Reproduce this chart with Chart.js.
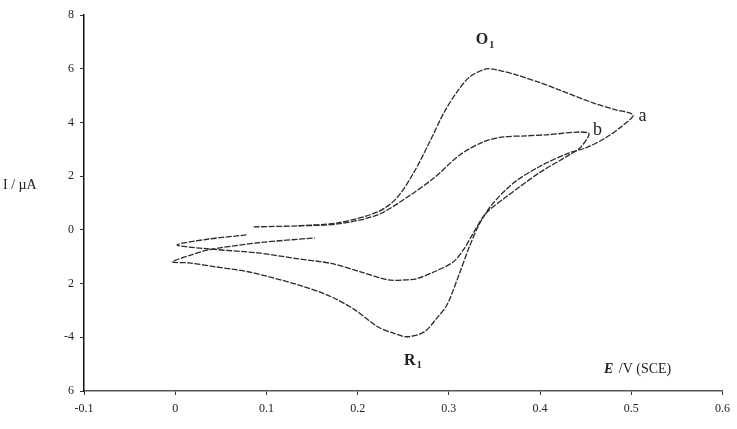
<!DOCTYPE html>
<html>
<head>
<meta charset="utf-8">
<script src="https://cdn.jsdelivr.net/npm/chart.js@4.4.1/dist/chart.umd.min.js"></script>
<style>
  html, body { margin: 0; padding: 0; background: #fff; }
</style>
</head>
<body>
<canvas id="cvChart" width="737" height="429"></canvas>
<script>
/* --------------- Data (E in V vs SCE, I in µA) --------------------- */
// curve a : larger window, goes to 0.5 V
const curveA_E = [0.135, 0.178, 0.222, 0.243, 0.262, 0.279, 0.295, 0.309, 0.323, 0.341, 0.352, 0.374, 0.401, 0.421, 0.458, 0.483, 0.502,
    0.490, 0.472, 0.450, 0.432, 0.399, 0.371, 0.347, 0.333, 0.322, 0.311, 0.298, 0.287, 0.273, 0.254, 0.238, 0.222, 0.197, 0.171, 0.135, 0.080, 0.045, 0.015, -0.003,
    0.018, 0.037, 0.091, 0.153];
const curveA_I = [0.15, 0.26, 0.67, 1.19, 2.16, 3.28, 4.39, 5.14, 5.70, 5.99, 5.96, 5.77, 5.47, 5.21, 4.73, 4.47, 4.28,
    3.87, 3.43, 3.05, 2.87, 2.35, 1.75, 0.93, 0.19, -0.67, -1.68, -2.79, -3.28, -3.80, -3.98, -3.83, -3.61, -2.98, -2.49, -2.05, -1.56, -1.38, -1.23, -1.19,
    -0.93, -0.74, -0.48, -0.30];

// curve b : smaller window, goes to 0.45 V
const curveB_E = [0.086, 0.135, 0.178, 0.222, 0.258, 0.284, 0.312, 0.338, 0.360, 0.385, 0.407, 0.453,
    0.445, 0.432, 0.399, 0.363, 0.341, 0.327, 0.316, 0.305, 0.284, 0.265, 0.254, 0.233, 0.203, 0.171, 0.135, 0.091, 0.037, 0.002,
    0.037, 0.078];
const curveB_I = [0.11, 0.15, 0.22, 0.56, 1.30, 1.94, 2.79, 3.28, 3.46, 3.50, 3.54, 3.61,
    3.09, 2.79, 2.12, 1.23, 0.63, -0.11, -0.74, -1.19, -1.56, -1.82, -1.86, -1.86, -1.56, -1.25, -1.08, -0.86, -0.71, -0.56,
    -0.34, -0.19];

/* --------------- Tick labels (as printed) --------------------- */
const xTickLabels = ["-0.1", "0", "0.1", "0.2", "0.3", "0.4", "0.5", "0.6"];
const yTickLabels = ["6", "-4", "2", "0", "2", "4", "6", "8"];   // from -6 up to 8

/* --------------- Labels on the plot --------------------- */
const peakLabels = [
    { text: "O", sub: "1", e: 0.339, i: 7.07 },
    { text: "R", sub: "1", e: 0.260, i: -4.88 }
];
const curveLabels = [
    { text: "a", e: 0.508, i: 4.24 },
    { text: "b", e: 0.458, i: 3.72 }
];

const serif = "'Liberation Serif', 'DejaVu Serif', serif";
const toPoints = (xs, ys) => xs.map((x, k) => ({ x: x, y: ys[k] }));

/* --------------- Text plugin --------------------- */
const textPlugin = {
    id: "cvText",
    afterDraw(chart) {
        const ctx = chart.ctx;
        const sx = chart.scales.x, sy = chart.scales.y;
        ctx.save();
        ctx.fillStyle = "#222";
        ctx.textBaseline = "middle";
        ctx.textAlign = "left";

        // O1 / R1
        peakLabels.forEach(p => {
            ctx.font = "bold 16px " + serif;
            const w1 = ctx.measureText(p.text).width;
            ctx.font = "bold 10px " + serif;
            const w2 = ctx.measureText(p.sub).width;
            const x0 = sx.getPixelForValue(p.e) - (w1 + w2) / 2;
            const y0 = sy.getPixelForValue(p.i);
            ctx.font = "bold 16px " + serif;
            ctx.fillText(p.text, x0, y0);
            ctx.font = "bold 10px " + serif;
            ctx.fillText(p.sub, x0 + w1 + 1, y0 + 5);
        });

        // a / b
        ctx.font = "18px " + serif;
        curveLabels.forEach(c => {
            ctx.fillText(c.text, sx.getPixelForValue(c.e), sy.getPixelForValue(c.i));
        });

        // x title
        const ex = sx.getPixelForValue(0.470), ey = sy.getPixelForValue(-5.21);
        ctx.font = "bold italic 14px " + serif;
        ctx.fillText("E", ex, ey);
        const we = ctx.measureText("E").width;
        ctx.font = "14px " + serif;
        ctx.fillText(" /V (SCE)", ex + we + 2, ey);

        // y title
        ctx.font = "14px " + serif;
        ctx.fillText("I / \u00b5A", 3, sy.getPixelForValue(1.64));
        ctx.restore();
    }
};

/* --------------- Chart --------------------- */
const cvChart = new Chart(document.getElementById("cvChart"), {
    type: "scatter",
    plugins: [textPlugin],
    data: {
        datasets: [
            {
                label: "a",
                data: toPoints(curveA_E, curveA_I),
                showLine: true,
                borderColor: "#2a2a2a",
                borderWidth: 1.3,
                borderDash: [6, 1.5],
                pointRadius: 0,
                tension: 0.3
            },
            {
                label: "b",
                data: toPoints(curveB_E, curveB_I),
                showLine: true,
                borderColor: "#2a2a2a",
                borderWidth: 1.3,
                borderDash: [6, 1.5],
                pointRadius: 0,
                tension: 0.3
            }
        ]
    },
    options: {
        responsive: false,
        animation: false,
        devicePixelRatio: 1,
        layout: { padding: { top: 15, right: 9, left: 0, bottom: 0 } },
        plugins: {
            legend: { display: false },
            tooltip: { enabled: false }
        },
        scales: {
            x: {
                type: "linear",
                min: -0.1,
                max: 0.6,
                afterFit: s => { s.height = 38; },
                border: { display: true, color: "#555", width: 1.5 },
                grid: { drawOnChartArea: false, drawTicks: true, tickLength: 4, color: "#333" },
                ticks: {
                    stepSize: 0.1,
                    padding: 7,
                    color: "#222",
                    font: { family: serif, size: 12 },
                    callback: v => xTickLabels[Math.round(v * 10) + 1]
                }
            },
            y: {
                type: "linear",
                min: -6,
                max: 8,
                afterFit: s => { s.width = 84; },
                border: { display: true, color: "#111", width: 1.5 },
                grid: { drawOnChartArea: false, drawTicks: true, tickLength: 4, color: "#333" },
                ticks: {
                    stepSize: 2,
                    padding: 6,
                    color: "#222",
                    font: { family: serif, size: 12 },
                    callback: v => yTickLabels[Math.round((v + 6) / 2)]
                }
            }
        }
    }
});
</script>
</body>
</html>
